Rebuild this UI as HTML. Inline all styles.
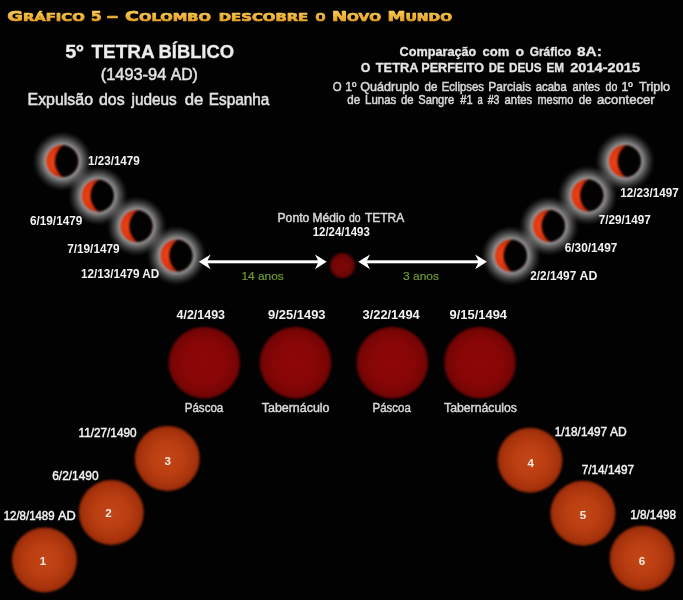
<!DOCTYPE html>
<html lang="pt">
<head>
<meta charset="utf-8">
<title>Gráfico 5 – Colombo descobre o Novo Mundo</title>
<style>
html,body{margin:0;padding:0;background:#020202;}
body{width:683px;height:600px;overflow:hidden;}
svg{display:block;}
text{white-space:pre;}
</style>
</head>
<body>
<svg width="683" height="600" viewBox="0 0 683 600">
<defs>
<radialGradient id="glow" cx="0.5" cy="0.5" r="0.5">
<stop offset="0" stop-color="#fff" stop-opacity="0.60"/>
<stop offset="0.533" stop-color="#fff" stop-opacity="0.60"/>
<stop offset="0.60" stop-color="#fff" stop-opacity="0.52"/>
<stop offset="0.667" stop-color="#fff" stop-opacity="0.40"/>
<stop offset="0.733" stop-color="#fff" stop-opacity="0.30"/>
<stop offset="0.80" stop-color="#fff" stop-opacity="0.20"/>
<stop offset="0.867" stop-color="#fff" stop-opacity="0.115"/>
<stop offset="0.933" stop-color="#fff" stop-opacity="0.045"/>
<stop offset="1" stop-color="#fff" stop-opacity="0"/>
</radialGradient>
<radialGradient id="cres" cx="0.3" cy="0.5" r="0.55">
<stop offset="0" stop-color="#f04416"/>
<stop offset="0.6" stop-color="#e0340e"/>
<stop offset="1" stop-color="#a82006"/>
</radialGradient>
<radialGradient id="mid" cx="0.5" cy="0.5" r="0.5">
<stop offset="0" stop-color="#7e0707"/>
<stop offset="0.6" stop-color="#760606"/>
<stop offset="1" stop-color="#5a0404"/>
</radialGradient>
<radialGradient id="blood" cx="0.5" cy="0.5" r="0.5">
<stop offset="0" stop-color="#8e0707"/>
<stop offset="0.6" stop-color="#880606"/>
<stop offset="0.88" stop-color="#780505"/>
<stop offset="1" stop-color="#640404"/>
</radialGradient>
<radialGradient id="orange" cx="0.5" cy="0.5" r="0.5">
<stop offset="0" stop-color="#c34616"/>
<stop offset="0.5" stop-color="#ba3e11"/>
<stop offset="0.85" stop-color="#a8330c"/>
<stop offset="1" stop-color="#942a08"/>
</radialGradient>
<linearGradient id="gold" gradientUnits="userSpaceOnUse" x1="0" y1="11" x2="0" y2="21">
<stop offset="0" stop-color="#f8cc54"/>
<stop offset="1" stop-color="#e6a026"/>
</linearGradient>
<filter id="soft" color-interpolation-filters="sRGB" x="-10%" y="-10%" width="120%" height="120%"><feGaussianBlur stdDeviation="0.7"/></filter>
<filter id="tx" color-interpolation-filters="sRGB" x="-5%" y="-30%" width="110%" height="160%"><feGaussianBlur stdDeviation="0.5"/></filter>
<filter id="soft3" color-interpolation-filters="sRGB" x="-10%" y="-10%" width="120%" height="120%"><feGaussianBlur stdDeviation="1.1"/></filter>
<filter id="soft2" color-interpolation-filters="sRGB" x="-10%" y="-10%" width="120%" height="120%"><feGaussianBlur stdDeviation="0.9"/></filter>
<clipPath id="disc"><circle cx="0" cy="0" r="16.1"/></clipPath>
<g id="partial">
<circle cx="0" cy="0" r="30" fill="url(#glow)"/>
<g filter="url(#soft2)">
<circle cx="0" cy="0" r="16.1" fill="url(#cres)"/>
<circle cx="12.0" cy="0" r="19.4" fill="#020202" clip-path="url(#disc)"/>
</g>
</g>
<path id="ahead" d="M0.3 0 L-11.4 -7.4 L-7.8 0 L-11.4 7.4 Z" fill="#fff"/>
</defs>
<rect width="683" height="600" fill="#020202"/>

<g id="title" filter="url(#tx)">
<text x="7.25" y="20.6" font-weight="bold" fill="url(#gold)" font-family='"DejaVu Sans", "Liberation Sans", sans-serif' textLength="77.51" lengthAdjust="spacingAndGlyphs" stroke="url(#gold)" stroke-width="0.7" stroke-linejoin="round"><tspan font-size="13.2">G</tspan><tspan font-size="10.2" style="text-transform:uppercase">ráfico</tspan></text>
<text x="91.00" y="20.6" font-weight="bold" fill="url(#gold)" font-family='"DejaVu Sans", "Liberation Sans", sans-serif' textLength="10.66" lengthAdjust="spacingAndGlyphs" stroke="url(#gold)" stroke-width="0.7" stroke-linejoin="round"><tspan font-size="13.2">5</tspan></text>
<text x="106.50" y="20.6" font-weight="bold" fill="url(#gold)" font-family='"DejaVu Sans", "Liberation Sans", sans-serif' textLength="11.89" lengthAdjust="spacingAndGlyphs" stroke="url(#gold)" stroke-width="0.7" stroke-linejoin="round"><tspan font-size="13.2">–</tspan></text>
<text x="125.00" y="20.6" font-weight="bold" fill="url(#gold)" font-family='"DejaVu Sans", "Liberation Sans", sans-serif' textLength="86.00" lengthAdjust="spacingAndGlyphs" stroke="url(#gold)" stroke-width="0.7" stroke-linejoin="round"><tspan font-size="13.2">C</tspan><tspan font-size="10.2" style="text-transform:uppercase">olombo</tspan></text>
<text x="218.75" y="20.6" font-weight="bold" fill="url(#gold)" font-family='"DejaVu Sans", "Liberation Sans", sans-serif' textLength="89.52" lengthAdjust="spacingAndGlyphs" stroke="url(#gold)" stroke-width="0.7" stroke-linejoin="round"><tspan font-size="10.2" style="text-transform:uppercase">descobre</tspan></text>
<text x="315.50" y="20.6" font-weight="bold" fill="url(#gold)" font-family='"DejaVu Sans", "Liberation Sans", sans-serif' textLength="10.02" lengthAdjust="spacingAndGlyphs" stroke="url(#gold)" stroke-width="0.7" stroke-linejoin="round"><tspan font-size="10.2" style="text-transform:uppercase">o</tspan></text>
<text x="332.00" y="20.6" font-weight="bold" fill="url(#gold)" font-family='"DejaVu Sans", "Liberation Sans", sans-serif' textLength="49.04" lengthAdjust="spacingAndGlyphs" stroke="url(#gold)" stroke-width="0.7" stroke-linejoin="round"><tspan font-size="13.2">N</tspan><tspan font-size="10.2" style="text-transform:uppercase">ovo</tspan></text>
<text x="387.50" y="20.6" font-weight="bold" fill="url(#gold)" font-family='"DejaVu Sans", "Liberation Sans", sans-serif' textLength="64.53" lengthAdjust="spacingAndGlyphs" stroke="url(#gold)" stroke-width="0.7" stroke-linejoin="round"><tspan font-size="13.2">M</tspan><tspan font-size="10.2" style="text-transform:uppercase">undo</tspan></text>
</g>
<g id="left-heading" filter="url(#tx)">
<text y="58.3" font-size="19" font-weight="bold" fill="#ececec" stroke="#ececec" stroke-width="0.3" font-family='"Liberation Sans", sans-serif'><tspan x="65.25" textLength="18.30" lengthAdjust="spacingAndGlyphs">5º</tspan> <tspan x="91.50" textLength="62.51" lengthAdjust="spacingAndGlyphs">TETRA</tspan> <tspan x="158.50" textLength="75.54" lengthAdjust="spacingAndGlyphs">BÍBLICO</tspan></text>
<text y="79.5" font-size="16" font-weight="normal" fill="#e2e2e2" stroke="#e2e2e2" stroke-width="0.5" font-family='"Liberation Sans", sans-serif'><tspan x="100.75" textLength="65.53" lengthAdjust="spacingAndGlyphs">(1493-94</tspan> <tspan x="170.75" textLength="27.03" lengthAdjust="spacingAndGlyphs">AD)</tspan></text>
<text y="105.2" font-size="16" font-weight="normal" fill="#e2e2e2" stroke="#e2e2e2" stroke-width="0.5" font-family='"Liberation Sans", sans-serif'><tspan x="27.50" textLength="65.56" lengthAdjust="spacingAndGlyphs">Expulsão</tspan> <tspan x="99.00" textLength="25.56" lengthAdjust="spacingAndGlyphs">dos</tspan> <tspan x="131.50" textLength="45.25" lengthAdjust="spacingAndGlyphs">judeus</tspan> <tspan x="184.75" textLength="18.60" lengthAdjust="spacingAndGlyphs">de</tspan> <tspan x="208.75" textLength="60.52" lengthAdjust="spacingAndGlyphs">Espanha</tspan></text>
</g>
<g id="right-heading" filter="url(#tx)">
<text y="55.7" font-size="13" font-weight="bold" fill="#e6e6e6" stroke="#e6e6e6" stroke-width="0.3" font-family='"Liberation Sans", sans-serif'><tspan x="399.50" textLength="76.76" lengthAdjust="spacingAndGlyphs">Comparação</tspan> <tspan x="482.50" textLength="26.82" lengthAdjust="spacingAndGlyphs">com</tspan> <tspan x="515.50" textLength="8.65" lengthAdjust="spacingAndGlyphs">o</tspan> <tspan x="529.75" textLength="41.53" lengthAdjust="spacingAndGlyphs">Gráfico</tspan> <tspan x="577.00" textLength="24.89" lengthAdjust="spacingAndGlyphs">8A:</tspan></text>
<text y="71.7" font-size="13" font-weight="bold" fill="#e6e6e6" stroke="#e6e6e6" stroke-width="0.3" font-family='"Liberation Sans", sans-serif'><tspan x="360.75" textLength="9.58" lengthAdjust="spacingAndGlyphs">O</tspan> <tspan x="375.75" textLength="42.26" lengthAdjust="spacingAndGlyphs">TETRA</tspan> <tspan x="421.25" textLength="62.78" lengthAdjust="spacingAndGlyphs">PERFEITO</tspan> <tspan x="488.75" textLength="15.84" lengthAdjust="spacingAndGlyphs">DE</tspan> <tspan x="509.00" textLength="32.55" lengthAdjust="spacingAndGlyphs">DEUS</tspan> <tspan x="546.50" textLength="17.61" lengthAdjust="spacingAndGlyphs">EM</tspan> <tspan x="570.25" textLength="69.76" lengthAdjust="spacingAndGlyphs">2014-2015</tspan></text>
<text y="90.5" font-size="12.4" font-weight="normal" fill="#d8d8d8" stroke="#d8d8d8" stroke-width="0.5" font-family='"Liberation Sans", sans-serif'><tspan x="332.75" textLength="8.86" lengthAdjust="spacingAndGlyphs">O</tspan> <tspan x="345.25" textLength="11.13" lengthAdjust="spacingAndGlyphs">1º</tspan> <tspan x="360.25" textLength="58.77" lengthAdjust="spacingAndGlyphs">Quádruplo</tspan> <tspan x="424.50" textLength="12.85" lengthAdjust="spacingAndGlyphs">de</tspan> <tspan x="441.75" textLength="42.29" lengthAdjust="spacingAndGlyphs">Eclipses</tspan> <tspan x="488.25" textLength="42.79" lengthAdjust="spacingAndGlyphs">Parciais</tspan> <tspan x="535.75" textLength="31.01" lengthAdjust="spacingAndGlyphs">acaba</tspan> <tspan x="572.50" textLength="27.28" lengthAdjust="spacingAndGlyphs">antes</tspan> <tspan x="605.50" textLength="11.81" lengthAdjust="spacingAndGlyphs">do</tspan> <tspan x="621.50" textLength="11.34" lengthAdjust="spacingAndGlyphs">1º</tspan> <tspan x="639.00" textLength="31.02" lengthAdjust="spacingAndGlyphs">Triplo</tspan></text>
<text y="104.2" font-size="12.4" font-weight="normal" fill="#d8d8d8" stroke="#d8d8d8" stroke-width="0.5" font-family='"Liberation Sans", sans-serif'><tspan x="347.25" textLength="12.82" lengthAdjust="spacingAndGlyphs">de</tspan> <tspan x="365.00" textLength="31.29" lengthAdjust="spacingAndGlyphs">Lunas</tspan> <tspan x="401.00" textLength="12.57" lengthAdjust="spacingAndGlyphs">de</tspan> <tspan x="418.25" textLength="36.02" lengthAdjust="spacingAndGlyphs">Sangre</tspan> <tspan x="460.25" textLength="12.27" lengthAdjust="spacingAndGlyphs">#1</tspan> <tspan x="477.50" textLength="5.27" lengthAdjust="spacingAndGlyphs">a</tspan> <tspan x="487.75" textLength="11.76" lengthAdjust="spacingAndGlyphs">#3</tspan> <tspan x="504.50" textLength="27.77" lengthAdjust="spacingAndGlyphs">antes</tspan> <tspan x="537.50" textLength="35.78" lengthAdjust="spacingAndGlyphs">mesmo</tspan> <tspan x="578.75" textLength="12.81" lengthAdjust="spacingAndGlyphs">de</tspan> <tspan x="597.00" textLength="57.76" lengthAdjust="spacingAndGlyphs">acontecer</tspan></text>
</g>
<g id="partials">
<use href="#partial" x="62.3" y="161.2"/>
<use href="#partial" x="97.9" y="195.7"/>
<use href="#partial" x="136.6" y="226.2"/>
<use href="#partial" x="176.6" y="255.6"/>
<use href="#partial" x="511" y="255.7"/>
<use href="#partial" x="549" y="225.9"/>
<use href="#partial" x="587.5" y="195.3"/>
<use href="#partial" x="625" y="161.2"/>
</g>
<g id="partial-dates" filter="url(#tx)">
<text x="88.00" y="165.2" font-size="12.4" font-weight="bold" fill="#f2f2f2" font-family='"Liberation Sans", sans-serif' textLength="51.78" lengthAdjust="spacingAndGlyphs">1/23/1479</text>
<text x="30.00" y="225.1" font-size="12.4" font-weight="bold" fill="#f2f2f2" font-family='"Liberation Sans", sans-serif' textLength="52.27" lengthAdjust="spacingAndGlyphs">6/19/1479</text>
<text x="67.25" y="252.6" font-size="12.4" font-weight="bold" fill="#f2f2f2" font-family='"Liberation Sans", sans-serif' textLength="52.27" lengthAdjust="spacingAndGlyphs">7/19/1479</text>
<text y="278.3" font-size="12.4" font-weight="bold" fill="#f2f2f2" font-family='"Liberation Sans", sans-serif'><tspan x="81.00" textLength="58.53" lengthAdjust="spacingAndGlyphs">12/13/1479</tspan> <tspan x="142.25" textLength="17.04" lengthAdjust="spacingAndGlyphs">AD</tspan></text>
<text x="620.25" y="196.7" font-size="12.4" font-weight="bold" fill="#f2f2f2" font-family='"Liberation Sans", sans-serif' textLength="58.52" lengthAdjust="spacingAndGlyphs">12/23/1497</text>
<text x="598.75" y="224.3" font-size="12.4" font-weight="bold" fill="#f2f2f2" font-family='"Liberation Sans", sans-serif' textLength="52.02" lengthAdjust="spacingAndGlyphs">7/29/1497</text>
<text x="564.75" y="252.2" font-size="12.4" font-weight="bold" fill="#f2f2f2" font-family='"Liberation Sans", sans-serif' textLength="52.52" lengthAdjust="spacingAndGlyphs">6/30/1497</text>
<text y="279.6" font-size="12.4" font-weight="bold" fill="#f2f2f2" font-family='"Liberation Sans", sans-serif'><tspan x="530.25" textLength="46.02" lengthAdjust="spacingAndGlyphs">2/2/1497</tspan> <tspan x="579.50" textLength="17.80" lengthAdjust="spacingAndGlyphs">AD</tspan></text>
</g>
<g id="midpoint">
<g filter="url(#tx)">
<text y="221.6" font-size="12.2" font-weight="normal" fill="#d8d8d8" stroke="#d8d8d8" stroke-width="0.45" font-family='"Liberation Sans", sans-serif'><tspan x="277.50" textLength="31.81" lengthAdjust="spacingAndGlyphs">Ponto</tspan> <tspan x="312.50" textLength="32.83" lengthAdjust="spacingAndGlyphs">Médio</tspan> <tspan x="349.00" textLength="11.55" lengthAdjust="spacingAndGlyphs">do</tspan> <tspan x="365.00" textLength="39.25" lengthAdjust="spacingAndGlyphs">TETRA</tspan></text>
<text x="312.75" y="235.9" font-size="12.4" font-weight="bold" fill="#f2f2f2" font-family='"Liberation Sans", sans-serif' textLength="57.02" lengthAdjust="spacingAndGlyphs">12/24/1493</text>
<text x="241.50" y="280.1" font-size="11.6" font-weight="normal" fill="#6f9c34" font-family='"Liberation Sans", sans-serif' textLength="42.29" lengthAdjust="spacingAndGlyphs" stroke="#6f9c34" stroke-width="0.2">14 anos</text>
<text x="403.00" y="280.1" font-size="11.6" font-weight="normal" fill="#6f9c34" font-family='"Liberation Sans", sans-serif' textLength="36.02" lengthAdjust="spacingAndGlyphs" stroke="#6f9c34" stroke-width="0.2">3 anos</text>
</g>
<circle cx="342.4" cy="265.7" r="12.6" fill="url(#mid)" filter="url(#soft3)"/>
<g filter="url(#tx)"><rect x="206.2" y="260.3" width="113.2" height="3" fill="#fff"/><use href="#ahead" x="326.4" y="261.8"/><use href="#ahead" transform="translate(199.2 261.8) scale(-1 1)"/></g>
<g filter="url(#tx)"><rect x="365.6" y="260.3" width="114.0" height="3" fill="#fff"/><use href="#ahead" x="486.6" y="261.8"/><use href="#ahead" transform="translate(358.6 261.8) scale(-1 1)"/></g>
</g>
<g id="tetra">
<circle cx="204.3" cy="362.6" r="35.9" fill="url(#blood)" filter="url(#soft3)"/>
<circle cx="295.5" cy="362.6" r="35.9" fill="url(#blood)" filter="url(#soft3)"/>
<circle cx="392.3" cy="362.6" r="35.9" fill="url(#blood)" filter="url(#soft3)"/>
<circle cx="480.0" cy="362.6" r="35.9" fill="url(#blood)" filter="url(#soft3)"/>
<g filter="url(#tx)">
<text x="176.50" y="319.2" font-size="12.6" font-weight="bold" fill="#f2f2f2" font-family='"Liberation Sans", sans-serif' textLength="48.51" lengthAdjust="spacingAndGlyphs">4/2/1493</text>
<text x="268.00" y="319.2" font-size="12.6" font-weight="bold" fill="#f2f2f2" font-family='"Liberation Sans", sans-serif' textLength="57.51" lengthAdjust="spacingAndGlyphs">9/25/1493</text>
<text x="362.50" y="319.2" font-size="12.6" font-weight="bold" fill="#f2f2f2" font-family='"Liberation Sans", sans-serif' textLength="57.25" lengthAdjust="spacingAndGlyphs">3/22/1494</text>
<text x="449.50" y="319.2" font-size="12.6" font-weight="bold" fill="#f2f2f2" font-family='"Liberation Sans", sans-serif' textLength="57.51" lengthAdjust="spacingAndGlyphs">9/15/1494</text>
<text x="184.75" y="412.2" font-size="12.4" font-weight="normal" fill="#d8d8d8" font-family='"Liberation Sans", sans-serif' textLength="38.52" lengthAdjust="spacingAndGlyphs" stroke="#d8d8d8" stroke-width="0.45">Páscoa</text>
<text x="261.75" y="412.2" font-size="12.4" font-weight="normal" fill="#d8d8d8" font-family='"Liberation Sans", sans-serif' textLength="67.76" lengthAdjust="spacingAndGlyphs" stroke="#d8d8d8" stroke-width="0.45">Tabernáculo</text>
<text x="372.50" y="412.2" font-size="12.4" font-weight="normal" fill="#d8d8d8" font-family='"Liberation Sans", sans-serif' textLength="38.27" lengthAdjust="spacingAndGlyphs" stroke="#d8d8d8" stroke-width="0.45">Páscoa</text>
<text x="444.00" y="412.2" font-size="12.4" font-weight="normal" fill="#d8d8d8" font-family='"Liberation Sans", sans-serif' textLength="73.01" lengthAdjust="spacingAndGlyphs" stroke="#d8d8d8" stroke-width="0.45">Tabernáculos</text>
</g>
</g>
<g id="triple">
<circle cx="44.4" cy="560" r="32.5" fill="url(#orange)" filter="url(#soft3)"/>
<circle cx="111.3" cy="512.5" r="32.5" fill="url(#orange)" filter="url(#soft3)"/>
<circle cx="167.3" cy="458.4" r="32.5" fill="url(#orange)" filter="url(#soft3)"/>
<circle cx="530" cy="460.3" r="32.5" fill="url(#orange)" filter="url(#soft3)"/>
<circle cx="582.9" cy="513.2" r="32.5" fill="url(#orange)" filter="url(#soft3)"/>
<circle cx="642.2" cy="558.2" r="32.5" fill="url(#orange)" filter="url(#soft3)"/>
<g filter="url(#tx)">
<text x="42.9" y="564.6" font-size="11.6" font-weight="bold" fill="#f4ece4" text-anchor="middle" font-family='"Liberation Sans", sans-serif'>1</text>
<text x="108.5" y="517.4" font-size="11.6" font-weight="bold" fill="#f4ece4" text-anchor="middle" font-family='"Liberation Sans", sans-serif'>2</text>
<text x="167.8" y="465.2" font-size="11.6" font-weight="bold" fill="#f4ece4" text-anchor="middle" font-family='"Liberation Sans", sans-serif'>3</text>
<text x="530.8" y="466.8" font-size="11.6" font-weight="bold" fill="#f4ece4" text-anchor="middle" font-family='"Liberation Sans", sans-serif'>4</text>
<text x="583" y="519.1" font-size="11.6" font-weight="bold" fill="#f4ece4" text-anchor="middle" font-family='"Liberation Sans", sans-serif'>5</text>
<text x="642" y="565.2" font-size="11.6" font-weight="bold" fill="#f4ece4" text-anchor="middle" font-family='"Liberation Sans", sans-serif'>6</text>
<text y="520.1" font-size="12" font-weight="normal" fill="#f2f2f2" stroke="#f2f2f2" stroke-width="0.45" font-family='"Liberation Sans", sans-serif'><tspan x="3.75" textLength="50.79" lengthAdjust="spacingAndGlyphs">12/8/1489</tspan> <tspan x="58.00" textLength="17.78" lengthAdjust="spacingAndGlyphs">AD</tspan></text>
<text x="52.25" y="479.6" font-size="12" font-weight="normal" fill="#f2f2f2" font-family='"Liberation Sans", sans-serif' textLength="46.27" lengthAdjust="spacingAndGlyphs" stroke="#f2f2f2" stroke-width="0.45">6/2/1490</text>
<text x="78.50" y="436.6" font-size="12" font-weight="normal" fill="#f2f2f2" font-family='"Liberation Sans", sans-serif' textLength="58.03" lengthAdjust="spacingAndGlyphs" stroke="#f2f2f2" stroke-width="0.45">11/27/1490</text>
<text y="436.4" font-size="12" font-weight="normal" fill="#f2f2f2" stroke="#f2f2f2" stroke-width="0.45" font-family='"Liberation Sans", sans-serif'><tspan x="554.75" textLength="52.29" lengthAdjust="spacingAndGlyphs">1/18/1497</tspan> <tspan x="610.00" textLength="16.77" lengthAdjust="spacingAndGlyphs">AD</tspan></text>
<text x="581.75" y="474.3" font-size="12" font-weight="normal" fill="#f2f2f2" font-family='"Liberation Sans", sans-serif' textLength="52.28" lengthAdjust="spacingAndGlyphs" stroke="#f2f2f2" stroke-width="0.45">7/14/1497</text>
<text x="630.25" y="519.4" font-size="12" font-weight="normal" fill="#f2f2f2" font-family='"Liberation Sans", sans-serif' textLength="45.78" lengthAdjust="spacingAndGlyphs" stroke="#f2f2f2" stroke-width="0.45">1/8/1498</text>
</g>
</g>
</svg>
</body>
</html>
